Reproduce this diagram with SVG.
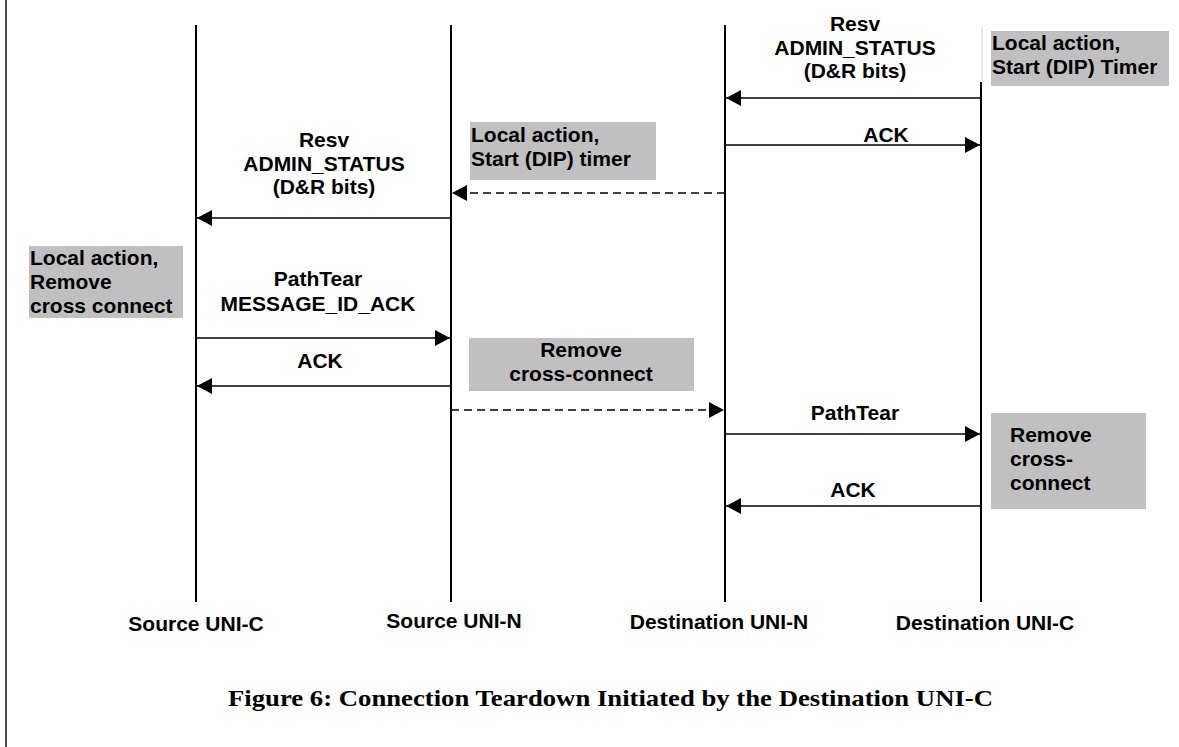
<svg xmlns="http://www.w3.org/2000/svg" width="1179" height="747" viewBox="0 0 1179 747">
  <defs>
    <marker id="head" markerUnits="userSpaceOnUse" markerWidth="15" markerHeight="16" refX="15" refY="8" orient="auto">
      <path d="M0,0 L15,8 L0,16 Z" fill="#000"/>
    </marker>
    <style>
      text { font-family: "Liberation Sans", Arial, sans-serif; font-weight: bold; font-size: 21px; fill: #000; }
      .mid { text-anchor: middle; }
      .life { stroke: #000; stroke-width: 2; fill: none; }
      .msg { stroke: #000; stroke-width: 1.6; fill: none; marker-end: url(#head); }
      .dash { stroke-dasharray: 8 5; }
      .note { fill: #c0c0c0; }
      .caption { font-family: "Liberation Serif", "Times New Roman", serif; font-size: 23px; }
    </style>
  </defs>

  <rect width="1179" height="747" fill="#fff"/>
  <!-- page frame edge -->
  <line x1="6" y1="0" x2="6" y2="747" stroke="#222" stroke-width="1.6"/>

  <!-- lifelines and their names -->
  <g id="source-uni-c">
    <line class="life" x1="196" y1="25" x2="196" y2="602"/>
    <text class="mid" x="196" y="631">Source UNI-C</text>
  </g>
  <g id="source-uni-n">
    <line class="life" x1="451" y1="25" x2="451" y2="602"/>
    <text class="mid" x="454" y="628">Source UNI-N</text>
  </g>
  <g id="destination-uni-n">
    <line class="life" x1="725" y1="25" x2="725" y2="602"/>
    <text class="mid" x="719" y="629">Destination UNI-N</text>
  </g>
  <g id="destination-uni-c">
    <line x1="982" y1="26" x2="982" y2="82" stroke="#e2e2e2" stroke-width="1.5"/>
    <line class="life" x1="981" y1="82" x2="981" y2="602"/>
    <text class="mid" x="985" y="630">Destination UNI-C</text>
  </g>

  <!-- local action notes -->
  <g id="note-dest-c-start">
    <rect class="note" x="991" y="31" width="178" height="55"/>
    <text x="992" y="50">Local action,</text>
    <text x="992" y="74">Start (DIP) Timer</text>
  </g>
  <g id="note-src-n-start">
    <rect class="note" x="470" y="122" width="186" height="58"/>
    <text x="471" y="142">Local action,</text>
    <text x="471" y="166">Start (DIP) timer</text>
  </g>
  <g id="note-src-c-remove">
    <rect class="note" x="29" y="246" width="154" height="72"/>
    <text x="30" y="265">Local action,</text>
    <text x="30" y="289">Remove</text>
    <text x="30" y="313">cross connect</text>
  </g>
  <g id="note-src-n-remove">
    <rect class="note" x="469" y="338" width="225" height="53"/>
    <text class="mid" x="581" y="357">Remove</text>
    <text class="mid" x="581" y="381">cross-connect</text>
  </g>
  <g id="note-dest-c-remove">
    <rect class="note" x="991" y="413" width="155" height="96"/>
    <text x="1010" y="442">Remove</text>
    <text x="1010" y="466">cross-</text>
    <text x="1010" y="490">connect</text>
  </g>

  <!-- message arrows -->
  <g id="connectors">
    <line class="msg" x1="981" y1="98" x2="726" y2="98"/>
    <line class="msg" x1="725" y1="145" x2="980" y2="145"/>
    <line class="msg dash" x1="725" y1="193" x2="452" y2="193"/>
    <line class="msg" x1="451" y1="218" x2="197" y2="218"/>
    <line class="msg" x1="196" y1="338" x2="450" y2="338"/>
    <line class="msg" x1="451" y1="386" x2="197" y2="386"/>
    <line class="msg dash" x1="451" y1="410" x2="724" y2="410"/>
    <line class="msg" x1="725" y1="434" x2="980" y2="434"/>
    <line class="msg" x1="981" y1="506" x2="726" y2="506"/>
  </g>

  <!-- message labels -->
  <g id="labels">
    <text class="mid" x="855" y="31">Resv</text>
    <text class="mid" x="855" y="55">ADMIN_STATUS</text>
    <text class="mid" x="855" y="78">(D&amp;R bits)</text>
    <text class="mid" x="886" y="142">ACK</text>
    <text class="mid" x="324" y="147">Resv</text>
    <text class="mid" x="324" y="171">ADMIN_STATUS</text>
    <text class="mid" x="324" y="194">(D&amp;R bits)</text>
    <text class="mid" x="318" y="286">PathTear</text>
    <text class="mid" x="318" y="311">MESSAGE_ID_ACK</text>
    <text class="mid" x="320" y="368">ACK</text>
    <text class="mid" x="855" y="420">PathTear</text>
    <text class="mid" x="853" y="497">ACK</text>
  </g>

  <text class="caption mid" x="610.5" y="706" textLength="765" lengthAdjust="spacingAndGlyphs">Figure 6: Connection Teardown Initiated by the Destination UNI-C</text>
</svg>
